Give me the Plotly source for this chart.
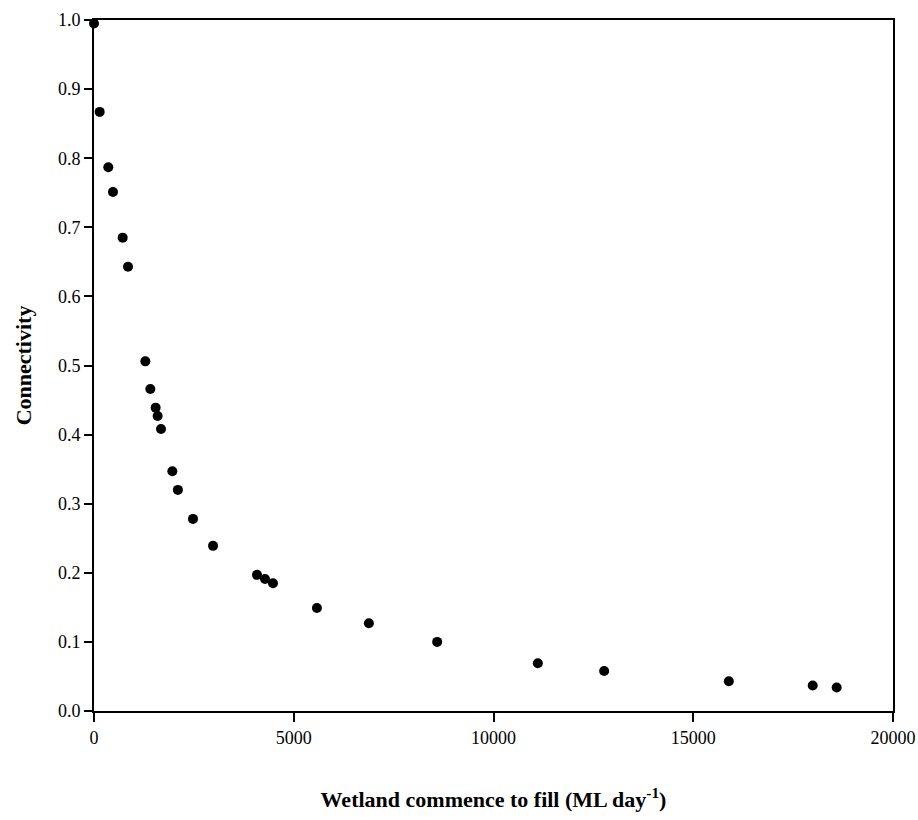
import plotly.graph_objects as go

fill_flow = [0, 142, 358, 475, 718, 851, 1285, 1410, 1543, 1593, 1677, 1961, 2100,
             2478, 2980, 4080, 4280, 4480, 5580, 6880, 8590, 11110, 12770, 15890,
             17990, 18590]
connectivity = [0.995, 0.867, 0.787, 0.751, 0.685, 0.643, 0.506, 0.466, 0.439, 0.427,
                0.408, 0.347, 0.320, 0.278, 0.239, 0.197, 0.191, 0.185, 0.149, 0.127,
                0.100, 0.069, 0.058, 0.043, 0.037, 0.034]

x_ticks = [0, 5000, 10000, 15000, 20000]
y_ticks = [0.0, 0.1, 0.2, 0.3, 0.4, 0.5, 0.6, 0.7, 0.8, 0.9, 1.0]

font = "Liberation Serif"

fig = go.Figure(go.Scatter(
    x=fill_flow, y=connectivity, mode="markers",
    marker=dict(color="black", size=10, symbol="circle"),
    cliponaxis=False, showlegend=False,
))

fig.update_layout(
    width=918, height=820,
    margin=dict(l=94, r=25, t=20, b=109, autoexpand=False),
    paper_bgcolor="white", plot_bgcolor="white",
    font=dict(family=font, size=18, color="black"),
    xaxis=dict(
        range=[0, 20000], tickvals=x_ticks, ticktext=[str(v) for v in x_ticks],
        ticks="outside", ticklen=9, tickwidth=2, tickcolor="black",
        showline=True, linecolor="black", linewidth=2, mirror=True,
        showgrid=False, zeroline=False, automargin=False,
        tickfont=dict(family=font, size=18),
        title=dict(text="<b>Wetland commence to fill (ML day<sup>-1</sup>)</b>",
                   font=dict(size=22, family=font), standoff=45),
    ),
    yaxis=dict(
        range=[0, 1.0], tickvals=y_ticks, ticktext=[f"{v:.1f}" for v in y_ticks],
        ticks="outside", ticklen=8, tickwidth=2, tickcolor="black",
        showline=True, linecolor="black", linewidth=2, mirror=True,
        showgrid=False, zeroline=False, automargin=False,
        tickfont=dict(family=font, size=18),
        title=dict(text="<b>Connectivity</b>", font=dict(size=22, family=font), standoff=20),
    ),
)

fig.write_html("out.html")
